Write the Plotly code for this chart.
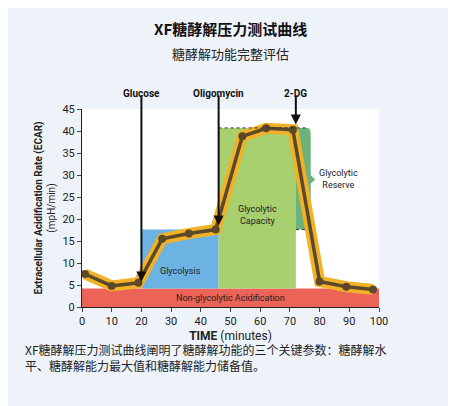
import plotly.graph_objects as go

time_min = [1, 10, 19, 27, 36, 45, 54, 62, 71, 80, 89, 98]
ecar = [7.5, 4.8, 5.5, 15.5, 16.7, 17.6, 38.8, 40.6, 40.3, 5.8, 4.6, 4.0]
nonglyco_level = 4.2
glycolysis_level = 17.6
capacity_level = 40.7
injections = ["Glucose", "Oligomycin", "2-DG"]
injection_times = [20, 46, 72]
injection_tips = [5.8, 18.5, 41.5]

fig = go.Figure()

# shaded regions
fig.add_shape(type="rect", x0=0, x1=100, y0=0, y1=nonglyco_level, fillcolor="#ec6357", line_width=0, layer="below")
fig.add_shape(type="rect", x0=injection_times[0], x1=injection_times[1], y0=nonglyco_level, y1=glycolysis_level,
              fillcolor="#6cb2e2", line_width=0, layer="below")
fig.add_shape(type="rect", x0=injection_times[1], x1=injection_times[2], y0=nonglyco_level, y1=capacity_level,
              fillcolor="#a9d06f", line_width=0, layer="below")
fig.add_shape(type="path", path="M 72 17.6 L 76 17.6 Q 77 17.6 77 19 L 77 28 L 78.5 29 L 77 30 L 77 39.3 Q 77 40.7 76 40.7 L 72 40.7 Z",
              fillcolor="#6db27a", line_width=0, layer="below")
fig.add_shape(type="line", x0=46, x1=76, y0=capacity_level, y1=capacity_level, line=dict(color="#333", width=1, dash="dot"))
fig.add_shape(type="line", x0=72, x1=76, y0=glycolysis_level, y1=glycolysis_level, line=dict(color="#333", width=1, dash="dot"))

fig.add_trace(go.Scatter(x=time_min, y=ecar, mode="lines", line=dict(color="#f2b227", width=11), hoverinfo="skip"))
fig.add_trace(go.Scatter(x=time_min, y=ecar, mode="lines+markers", line=dict(color="#5a4a2a", width=3.5),
                         marker=dict(color="#5a4a2a", size=8)))

txt = dict(family="Roboto", size=9, color="#222")
fig.add_annotation(x=50, y=2.1, text="Non-glycolytic Acidification", showarrow=False, font=txt)
fig.add_annotation(x=33, y=8.2, text="Glycolysis", showarrow=False, font=txt)
fig.add_annotation(x=59, y=21, text="Glycolytic<br>Capacity", showarrow=False, font=txt)
fig.add_annotation(x=79, y=29, text="Glycolytic<br>Reserve", showarrow=False, font=txt, xanchor="left")

for name, t, tip in zip(injections, injection_times, injection_tips):
    fig.add_annotation(x=t, y=tip, ax=t, ay=48.4, axref="x", ayref="y",
                       showarrow=True, arrowhead=2, arrowsize=1, arrowwidth=2, arrowcolor="#111", text="")
    fig.add_annotation(x=t, y=1.115, yref="paper", text="<b>" + name + "</b>", showarrow=False,
                       font=dict(family="Roboto", size=10, color="#111"))

fig.add_annotation(x=0.5, y=1.47, xref="paper", yref="paper", text="<b>XF糖酵解压力测试曲线</b>", showarrow=False,
                   font=dict(family="Noto Sans CJK SC", size=15, color="#111"))
fig.add_annotation(x=0.5, y=1.34, xref="paper", yref="paper", text="糖酵解功能完整评估", showarrow=False,
                   font=dict(family="Noto Sans CJK SC", size=13, color="#222"))
fig.add_annotation(x=-0.2, y=-0.35, xref="paper", yref="paper", xanchor="left", align="left",
                   text="XF糖酵解压力测试曲线阐明了糖酵解功能的三个关键参数：糖酵解水<br>平、糖酵解能力最大值和糖酵解能力储备值。",
                   showarrow=False, font=dict(family="Noto Sans CJK SC", size=12, color="#222"))

fig.update_xaxes(range=[0, 100], dtick=10, showgrid=False, showline=True, linecolor="#222", ticks="outside",
                 ticklen=4, tickfont=dict(family="Roboto", size=11, color="#222"),
                 title=dict(text="<b>TIME</b> (minutes)", font=dict(family="Roboto", size=12, color="#222"), standoff=4))
fig.update_yaxes(range=[0, 45], dtick=5, showgrid=False, showline=True, linecolor="#222", ticks="outside",
                 ticklen=4, tickfont=dict(family="Roboto", size=11, color="#222"),
                 title=dict(text="<b>Extracellular Acidification Rate (ECAR)</b><br>(mpH/min)",
                            font=dict(family="Roboto", size=10, color="#222"), standoff=4))
fig.update_layout(width=456, height=406, showlegend=False, paper_bgcolor="#eef3fa", plot_bgcolor="white",
                  margin=dict(l=74, r=85, t=101, b=107))
fig.write_html("out.html")
